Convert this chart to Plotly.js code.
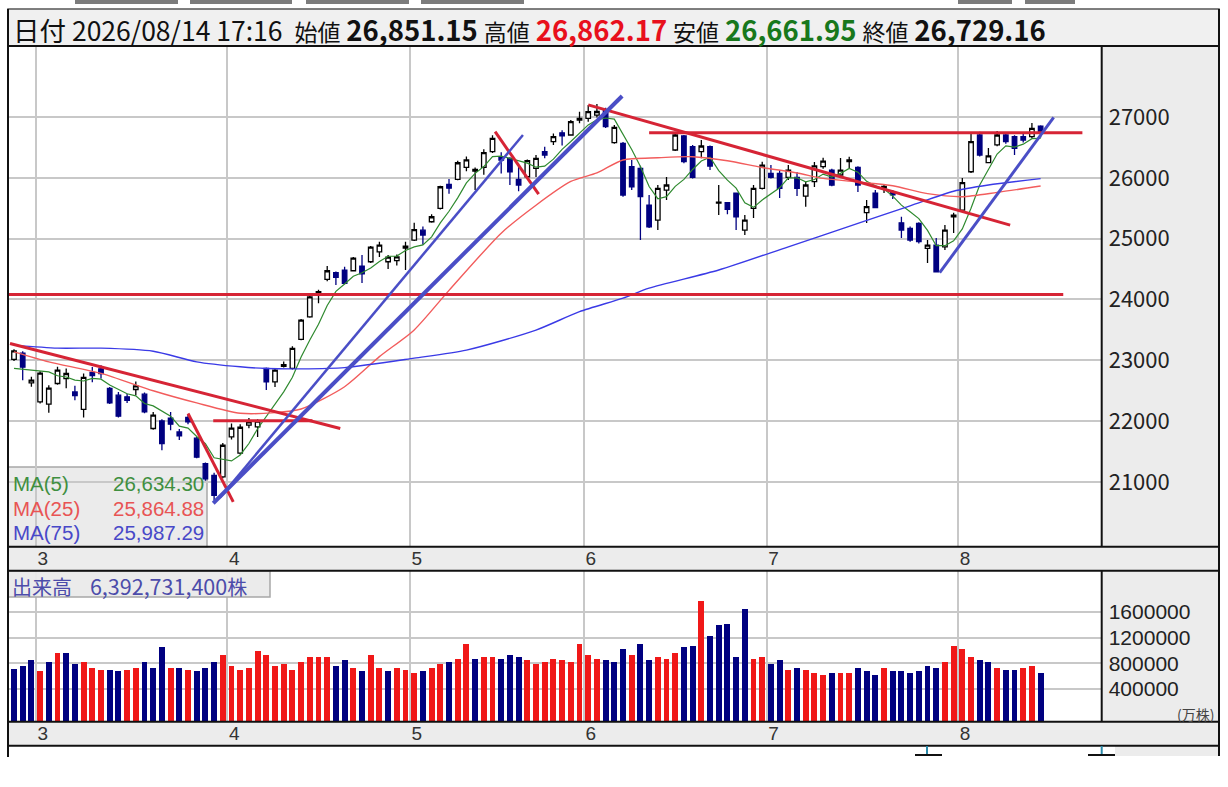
<!DOCTYPE html>
<html>
<head>
<meta charset="utf-8">
<script src="https://cdn.plot.ly/plotly-3.0.1.min.js"></script>
<style>
html,body{margin:0;padding:0;background:#fff;}
#chart{width:1228px;height:787px;}
</style>
</head>
<body>
<div id="chart"></div>
<script>
// ---------------- DATA ----------------
const OPEN = [23014,23118,22630,22317,22279,22619,22700,22480,22192,22800,
22860,22537,22427,22400,22520,22444,21879,22004,22050,21823,
22060,21720,21300,21110,21083,21740,21473,21935,21907,22866,
22645,22900,22866,23343,23715,24072,24330,24440,24484,24472,
24550,24620,24784,24620,24640,24845,24977,25140,25278,25498,
25893,25975,26173,26110,26173,26430,26350,26320,25975,26018,
26156,26430,26594,26740,26704,26950,26978,27030,27104,26578,
26567,26184,26156,25552,25306,25799,26457,26689,26512,26430,
26512,25585,25590,25746,25141,25498,25827,26073,26073,26008,
26008,25700,25936,26183,26128,26046,26265,26173,25427,25746,
25830,25770,25260,25168,25250,24840,24895,24866,25360,25470,
26100,26704,26250,26540,26704,26676,26676,26676,26851.15];
const HIGH = [23180,23150,22730,22820,22590,22893,22865,22580,22783,22890,
22920,22560,22480,22450,22650,22470,22152,22030,22150,21870,
22100,21740,21320,21150,21640,21960,21950,22050,22030,22880,
22860,22980,23230,23680,24070,24160,24550,24460,24540,24700,
24730,24880,24950,24730,24740,24950,25260,25200,25400,25870,
25980,26280,26350,26170,26470,26700,26420,26340,26190,26300,
26375,26510,26730,26780,26950,27087,27197,27214,27150,26870,
26590,26293,26200,25717,25880,26013,26720,26704,26540,26620,
26530,25882,25600,25760,25388,25880,26265,26210,26128,26210,
26095,25930,26260,26330,26150,26325,26347,26190,25635,25800,
25900,25800,25360,25200,25270,24977,25010,25223,25426,25996,
26737,26758,26490,26770,26750,26700,26730,26900,26862.17];
const LOW = [22990,22674,22565,22290,22136,22600,22540,22345,22060,22640,
22700,22280,22060,22300,22427,22130,21860,21522,21850,21690,
21950,21390,21020,20700,21060,21700,21450,21884,21740,22510,
22560,22880,22850,23330,23700,23940,24300,24237,24250,24460,
24270,24600,24700,24500,24560,24484,24960,24900,25260,25480,
25740,25960,26110,25800,26050,26410,26070,25880,25780,26000,
26013,26320,26540,26530,26690,26896,26923,26990,26820,26560,
25690,25800,24977,25174,25141,25635,26440,26240,25990,26320,
26128,25388,25400,25141,25059,25340,25810,25990,25668,25964,
25700,25525,25850,26150,25860,26000,26156,25766,25256,25500,
25750,25650,25010,24950,24920,24600,24450,24812,25092,25450,
26080,26350,26243,26520,26560,26375,26580,26650,26661.95];
const CLOSE = [23156,22888,22674,22790,22542,22838,22783,22420,22718,22750,
22780,22300,22082,22340,22580,22152,22098,21632,21950,21760,
21990,21407,21050,20782,21604,21884,21900,21990,22000,22645,
22838,22930,23197,23661,24044,24127,24472,24363,24265,24680,
24420,24860,24895,24697,24700,24878,25150,25060,25360,25853,
25830,26248,26294,26140,26415,26650,26290,26100,25882,26283,
26320,26375,26676,26690,26923,26975,27087,27090,26840,26830,
25717,25853,25690,25196,25827,25882,26704,26265,26008,26523,
26194,25600,25480,25360,25306,25827,26210,26008,25827,26128,
25827,25882,26196,26276,25882,26128,26293,25882,25525,25510,
25860,25720,25141,24977,24950,24895,24456,25141,25385,25920,
26594,26375,26360,26704,26594,26485,26621,26814,26729.16];
// volume (万株)
const VOLUME = [720000,757000,850000,679000,819000,958000,958000,788000,819000,726000,
695000,695000,679000,695000,726000,819000,726000,1050000,726000,726000,
695000,679000,726000,819000,927000,757000,695000,726000,989000,927000,
757000,788000,695000,819000,896000,896000,896000,757000,850000,726000,
679000,927000,726000,679000,726000,695000,648000,679000,726000,788000,
819000,865000,1098000,865000,896000,896000,865000,927000,896000,850000,
788000,819000,865000,850000,819000,1098000,927000,865000,850000,819000,
1020000,927000,1098000,850000,896000,865000,958000,1050000,1066000,1779000,
1221000,1392000,1407000,896000,1640000,865000,896000,788000,850000,695000,
726000,695000,648000,617000,648000,648000,648000,726000,679000,617000,
726000,679000,679000,648000,679000,757000,726000,819000,1066000,1020000,
896000,850000,819000,726000,695000,695000,726000,757000,648000];
// MA(5) for the first four sessions; later values come from the closes
const MA5_HEAD = [22866,22850,22835,22820];
// MA(25) and MA(75): session index / value
const MA25_IDX = [0,4,10,16,21,26,30,33,38,42,46,50,56,60,64,67,70,74,78,82,86,90,93,97,101,105,109,113,118];
const MA25_VAL = [23140,22975,22784,22500,22300,22130,22140,22200,22566,23060,23500,24150,25090,25550,25940,26080,26293,26330,26347,26280,26170,26080,25990,25930,25870,25740,25690,25760,25865];
const MA75_IDX = [0,5,10,16,21,26,29,33,38,46,52,60,65,70,73,81,89,97,103,108,112,118];
const MA75_VAL = [23250,23200,23200,23150,22975,22893,22866,22860,22880,23036,23168,23497,23800,24023,24187,24484,24866,25250,25540,25780,25882,25987];
// drawn trend lines: [startIdx, startPrice, endIdx, endPrice]
const RED_LINES = [
  [-0.46,23277,37.5,21879],
  [20.0,22126,25.2,20672],
  [22.9,22008,34.3,22008],
  [-0.7,24082,120.6,24082],
  [55.3,26758,60.3,25733],
  [66.0,27200,114.5,25223],
  [73.0,26742,122.8,26742]
];
const BLUE_LINES = [
  [22.9,20650,69.9,27345,4],
  [23.7,20749,58.5,26704,2.5],
  [106.4,24440,119.5,26995,3]
];
const MONTH_POS = [2.5,24.5,45.5,65.5,86.5,108.5];
const MONTH_LABELS = ['3','4','5','6','7','8'];
const PRICE_TICKS = [21000,22000,23000,24000,25000,26000,27000];
const VOL_TICKS = [400000,800000,1200000,1600000];
const PRICE_RANGE = [19936,28167];
const VOL_RANGE = [-109000,2244000];
const X_RANGE = [-0.69,125.02];
const HEADER = {date:'2026/08/14 17:16', open:'26,851.15', high:'26,862.17', low:'26,661.95', close:'26,729.16'};
const LEGEND_MA = [['MA(5)','26,634.30'],['MA(25)','25,864.88'],['MA(75)','25,987.29']];
const VOLUME_TOTAL = '6,392,731,400';

// ---------------- BUILD ----------------
const W = 1228, H = 787;
const px = x => x / W, py = y => 1 - y / H;
const IDX = CLOSE.map((_, i) => i);
const MA5 = CLOSE.map((c, i) => i < 4 ? MA5_HEAD[i] :
  (CLOSE[i] + CLOSE[i-1] + CLOSE[i-2] + CLOSE[i-3] + CLOSE[i-4]) / 5);
const RED = '#f01818', NAVY = '#000080';
const VOL_COLORS = CLOSE.map((c, i) => (i === 0 ? NAVY : (c >= CLOSE[i-1] ? RED : NAVY)));

const FONT = 'Noto Sans CJK JP, Noto Sans, sans-serif';
const NUMFONT = 'Liberation Sans, Arial, sans-serif';
const traces = [];
traces.push({
  type: 'candlestick', x: IDX, open: OPEN, high: HIGH, low: LOW, close: CLOSE,
  xaxis: 'x', yaxis: 'y', whiskerwidth: 0, hoverinfo: 'skip',
  increasing: {line: {color: '#000000', width: 1.3}, fillcolor: '#ffffff'},
  decreasing: {line: {color: NAVY, width: 1.3}, fillcolor: NAVY}
});
traces.push({type: 'scatter', mode: 'lines', x: IDX, y: MA5, xaxis: 'x', yaxis: 'y',
  line: {color: '#2f8a2f', width: 1.2}, hoverinfo: 'skip'});
traces.push({type: 'scatter', mode: 'lines', x: MA25_IDX, y: MA25_VAL, xaxis: 'x', yaxis: 'y',
  line: {color: '#f25c5c', width: 1.4, shape: 'spline', smoothing: 0.7}, hoverinfo: 'skip'});
traces.push({type: 'scatter', mode: 'lines', x: MA75_IDX, y: MA75_VAL, xaxis: 'x', yaxis: 'y',
  line: {color: '#3a3ae6', width: 1.4, shape: 'spline', smoothing: 0.7}, hoverinfo: 'skip'});
RED_LINES.forEach(l => traces.push({type: 'scatter', mode: 'lines', x: [l[0], l[2]], y: [l[1], l[3]],
  xaxis: 'x', yaxis: 'y', line: {color: '#d62435', width: 3}, hoverinfo: 'skip'}));
BLUE_LINES.forEach(l => traces.push({type: 'scatter', mode: 'lines', x: [l[0], l[2]], y: [l[1], l[3]],
  xaxis: 'x', yaxis: 'y', line: {color: '#4a4ec6', width: l[4]}, hoverinfo: 'skip'}));
traces.push({
  type: 'bar', x: IDX, y: VOLUME.map(v => v - VOL_RANGE[0]), base: VOL_RANGE[0],
  xaxis: 'x2', yaxis: 'y2', width: 0.68, marker: {color: VOL_COLORS, line: {width: 0}}, hoverinfo: 'skip'
});

const gridC = '#c8c8c8';
const xCommon = {
  range: X_RANGE, tickvals: MONTH_POS, ticktext: MONTH_LABELS, ticks: '', showgrid: true,
  gridcolor: gridC, gridwidth: 2, zeroline: false, showline: false, fixedrange: true,
  tickfont: {family: NUMFONT, size: 19, color: '#333'}, ticklabelshift: 7, ticklabelstandoff: -2
};
const shapes = [];
function rect(x0, y0, x1, y1, fill, lineColor, lw, layer) {
  shapes.push({type: 'rect', xref: 'paper', yref: 'paper', x0: px(x0), x1: px(x1), y0: py(y1), y1: py(y0),
    fillcolor: fill, line: {color: lineColor || 'rgba(0,0,0,0)', width: lw || 0}, layer: layer || 'below'});
}
function line(x0, y0, x1, y1, color, lw) {
  shapes.push({type: 'line', xref: 'paper', yref: 'paper', x0: px(x0), x1: px(x1), y0: py(y0), y1: py(y1),
    line: {color: color, width: lw}, layer: 'above'});
}
// header and tabs
rect(8, 9, 1219, 46, '#f0f0f0', '#555', 1.5);
[[75,178],[190,292],[306,409],[421,524],[958,1012],[1025,1075]].forEach(t => rect(t[0], 0, t[1], 4, '#7c7c7c'));
// right axis backgrounds and label strips
rect(1101.7, 46, 1219, 546.7, '#ececec');
rect(1101.7, 570.7, 1219, 721.7, '#ececec');
rect(8, 546.7, 1219, 570.7, '#ececec');
rect(8, 721.7, 1219, 745.7, '#ececec');
rect(1115, 746, 1219, 756, '#ececec');
// MA legend box (below the traces)
shapes.push({type: 'rect', xref: 'x domain', yref: 'y domain', x0: 0, x1: (207 - 8) / (1101.7 - 8),
  y0: 0, y1: (546.7 - 467) / (546.7 - 46), fillcolor: 'rgba(234,234,234,0.95)',
  line: {color: '#a8a8a8', width: 1.5}, layer: 'below'});
// volume label box
rect(8, 571, 270, 597, 'rgba(234,234,234,0.95)', '#a8a8a8', 1.5, 'above');
// borders
[46, 546.7, 570.7, 721.7, 745.7].forEach(y => line(8, y, 1219, y, '#111', 2));
line(1101.7, 46, 1101.7, 546.7, '#111', 2);
line(1101.7, 570.7, 1101.7, 721.7, '#111', 2);
line(8, 9, 8, 757, '#111', 2);
line(1219, 9, 1219, 756, '#111', 2);
// bottom markers
line(927, 746, 927, 755, '#2a8aaa', 2);
line(915, 755, 942, 755, '#111', 2);
line(1101.7, 746, 1101.7, 755, '#2a8aaa', 2);
line(1088, 755, 1115, 755, '#111', 2);

const annotations = [];
function ann(text, x, y, anchor, size, color, family) {
  annotations.push({xref: 'paper', yref: 'paper', x: px(x), y: py(y), xanchor: anchor,
    yanchor: 'middle', text: text, showarrow: false, font: {family: family || FONT, size: size, color: color}});
}
const sp = '\u00a0';
const lab = t => '<span style="font-size:23px">' + t + '</span>';
const val = t => '<span style="font-size:27.5px">' + t + '</span>';
ann('日付' + sp + HEADER.date + sp + sp + lab('始値') + sp + '<b>' + val(HEADER.open) + '</b>' + sp +
    lab('高値') + sp + '<b><span style="color:#e8101c;font-size:27.5px">' + HEADER.high + '</span></b>' + sp +
    lab('安値') + sp + '<b><span style="color:#18781c;font-size:27.5px">' + HEADER.low + '</span></b>' + sp +
    lab('終値') + sp + '<b>' + val(HEADER.close) + '</b>', 11, 29, 'left', 26.5, '#111');
const legColors = ['#3f8f3f', '#e85454', '#4848c8'];
LEGEND_MA.forEach((m, k) => {
  ann(m[0], 11, 484 + k * 24, 'left', 20.5, legColors[k], NUMFONT);
  ann(m[1], 206, 484 + k * 24, 'right', 20.5, legColors[k], NUMFONT);
});
ann('出来高' + sp + sp + sp + sp + '<span style="font-size:21.5px">' + VOLUME_TOTAL + '</span>株', 10, 585.5, 'left', 20, '#4c4caa');
ann('(万株)', 1216, 713.5, 'right', 14, '#444');

const layout = {
  width: W, height: H, margin: {l: 0, r: 0, t: 0, b: 0, pad: 0},
  paper_bgcolor: '#ffffff', plot_bgcolor: '#ffffff', showlegend: false, boxgap: 0.26,
  font: {family: FONT, color: '#222'}, bargap: 0,
  xaxis: Object.assign({}, xCommon, {domain: [px(8), px(1101.7)], anchor: 'y', rangeslider: {visible: false}}),
  yaxis: {domain: [py(546.7), py(46)], range: PRICE_RANGE, side: 'right', anchor: 'x', tickvals: PRICE_TICKS,
    tickformat: 'd', ticks: '', gridcolor: gridC, gridwidth: 2, zeroline: false, showline: false, fixedrange: true,
    tickfont: {family: FONT, size: 22, color: '#222'}, ticklabelstandoff: 6},
  xaxis2: Object.assign({}, xCommon, {domain: [px(8), px(1101.7)], anchor: 'y2'}),
  yaxis2: {domain: [py(721.7), py(570.7)], range: VOL_RANGE, side: 'right', anchor: 'x2', tickvals: VOL_TICKS,
    tickformat: 'd', ticks: '', gridcolor: gridC, gridwidth: 2, zeroline: false, showline: false, fixedrange: true,
    tickfont: {family: NUMFONT, size: 21, color: '#222'}, ticklabelstandoff: 6},
  shapes: shapes, annotations: annotations
};
Plotly.newPlot('chart', traces, layout, {staticPlot: true, displayModeBar: false});
</script>
</body>
</html>
